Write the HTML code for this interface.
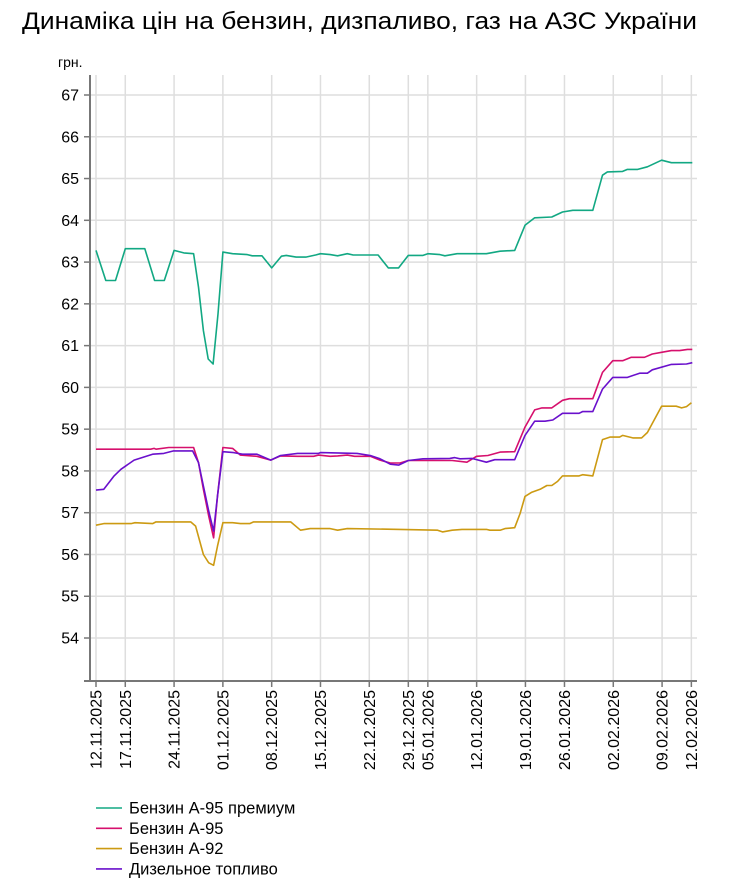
<!DOCTYPE html>
<html><head><meta charset="utf-8">
<style>
body{margin:0;background:#fff;font-family:"Liberation Sans",Arial,sans-serif;}
svg text{font-family:"Liberation Sans",Arial,sans-serif;}
</style></head>
<body>
<svg id="chart" width="748" height="891" xmlns="http://www.w3.org/2000/svg">
<text x="22" y="29" font-size="24" textLength="675" lengthAdjust="spacingAndGlyphs" fill="#000">Динаміка цін на бензин, дизпаливо, газ на АЗС України</text>
<text x="58" y="67" font-size="14" fill="#000">грн.</text>
<g id="grid"></g><g id="series"></g><g id="axes"></g><g id="legend"></g>
</svg>
<script>
const yTicks=[54,55,56,57,58,59,60,61,62,63,64,65,66,67];
const tickIdx=[0,6,16,26,36,46,56,64,68,78,88,96,106,116,122];
const tickLabels=["12.11.2025","17.11.2025","24.11.2025","01.12.2025","08.12.2025","15.12.2025","22.12.2025","29.12.2025","05.01.2026","12.01.2026","19.01.2026","26.01.2026","02.02.2026","09.02.2026","12.02.2026"];
const seriesNames=["Бензин А-95 премиум","Бензин А-95","Бензин А-92","Дизельное топливо"];
const seriesColors=["#12a883","#d6106d","#cc9a12","#6a10cc"];

const premX=[0,2,4,6,10,12,14,16,18,20,21,22,23,24,25,26,28,31,32,34,36,38,39,41,43,45,46,48,49.5,51.5,52.7,57.8,59.9,62,64,67,68,70.5,71.5,74,80,82.8,85.8,87.9,89.9,93.4,95.6,97.7,101.8,103.8,104.8,107.9,108.9,111,113,115.9,117.9,122.2];
const premV=[63.28,62.56,62.56,63.32,63.32,62.56,62.56,63.28,63.22,63.2,62.4,61.36,60.68,60.56,61.76,63.24,63.2,63.18,63.15,63.15,62.86,63.14,63.16,63.12,63.12,63.17,63.2,63.18,63.15,63.2,63.17,63.17,62.86,62.86,63.16,63.16,63.2,63.18,63.15,63.2,63.2,63.26,63.28,63.88,64.06,64.08,64.2,64.24,64.24,65.08,65.16,65.17,65.22,65.22,65.28,65.44,65.38,65.38];

const a95X=[0,11.2,11.9,12.3,14.9,20,21,22,23.1,24.1,24.9,26,28,29.6,33,35.8,37.8,41.3,44.6,45.6,48,49.5,51.5,53,56.2,58.2,60.3,62.3,64,68,73,76,78,80.3,82.8,85.8,87.9,89.9,91.4,93.4,95.6,97,101.8,103.8,105.9,107.9,109.7,112.4,114,115.9,117.9,119.6,121.2,122.2];
const a95V=[58.52,58.52,58.54,58.52,58.56,58.56,58.2,57.56,56.92,56.4,57.4,58.56,58.54,58.38,58.35,58.26,58.36,58.35,58.35,58.38,58.35,58.36,58.38,58.35,58.35,58.26,58.19,58.19,58.25,58.25,58.25,58.21,58.35,58.37,58.45,58.46,59.05,59.46,59.51,59.51,59.69,59.73,59.73,60.36,60.64,60.64,60.72,60.72,60.8,60.84,60.88,60.88,60.91,60.91];

const a92X=[0,1.6,7.2,8,11.6,12.3,19.4,20.4,22,23.1,24.1,24.9,26,28,29.6,31.5,32.3,39.9,41.9,43.9,48,49.5,51.5,62.3,70,71,73,75,80,80.7,82.8,83.8,85.8,86.9,87.9,89.3,91,92.4,93.4,94.6,95.6,99,99.7,101.8,103.8,105.3,107.3,107.9,110,111.8,113,115.9,118.9,120,121,122];
const a92V=[56.7,56.74,56.74,56.76,56.74,56.78,56.78,56.68,56,55.8,55.74,56.2,56.76,56.76,56.74,56.74,56.78,56.78,56.58,56.62,56.62,56.58,56.62,56.6,56.58,56.54,56.58,56.6,56.6,56.58,56.58,56.62,56.64,56.98,57.39,57.49,57.56,57.65,57.65,57.75,57.88,57.88,57.91,57.88,58.75,58.81,58.81,58.85,58.79,58.79,58.92,59.55,59.55,59.51,59.54,59.63];

const dieX=[0,1.6,3.7,5.1,7.8,11.6,13.9,15.9,19.8,21,22,23.1,24.1,24.9,26,28.2,30,33,35.8,37.8,41.3,45.6,46,53.5,56.2,58.2,60.3,62,64,67,72.5,73.5,74.6,77,80,81.7,85.8,87.9,89.9,92,93.6,95.6,99,99.7,101.8,103.8,105.9,108.9,111.4,113,114,117.9,121,122.2];
const dieV=[57.54,57.56,57.88,58.04,58.26,58.4,58.42,58.48,58.48,58.2,57.64,57.04,56.56,57.4,58.46,58.44,58.4,58.4,58.26,58.37,58.42,58.42,58.44,58.42,58.37,58.29,58.16,58.14,58.25,58.29,58.3,58.32,58.29,58.3,58.21,58.27,58.27,58.85,59.19,59.19,59.22,59.38,59.38,59.42,59.42,59.96,60.24,60.24,60.34,60.34,60.42,60.55,60.56,60.59];

const NS="http://www.w3.org/2000/svg";
const xS=i=>96+i*4.88;
const yS=v=>95+(67-v)*41.77;
function mk(tag,attrs,parent){const e=document.createElementNS(NS,tag);for(const k in attrs)e.setAttribute(k,attrs[k]);parent.appendChild(e);return e;}
const grid=document.getElementById('grid'),axes=document.getElementById('axes'),ser=document.getElementById('series'),leg=document.getElementById('legend');
yTicks.forEach(v=>{
  const l=mk('line',{x1:90,x2:697,y1:yS(v),y2:yS(v),stroke:'#dedede','stroke-width':1.5},grid);
  
  
  mk('line',{x1:84,x2:90,y1:yS(v),y2:yS(v),stroke:'#777','stroke-width':1.5},axes);
  const t=mk('text',{x:79,y:yS(v)+5.5,'font-size':16,'text-anchor':'end',fill:'#000'},axes);
  t.textContent=v;
  
  
});
tickIdx.forEach((ix,k)=>{
  const x=xS(ix);
  const l=mk('line',{x1:x,x2:x,y1:75,y2:681,stroke:'#dedede','stroke-width':1.5},grid);
  
  
  mk('line',{x1:x,x2:x,y1:681,y2:687,stroke:'#777','stroke-width':1.5},axes);
  const t=mk('text',{x:0,y:0,'font-size':16,'text-anchor':'end',fill:'#000',transform:`translate(${x+5.5},690) rotate(-90)`},axes);
  t.textContent=tickLabels[k];
  
  
});
const ya=mk('line',{x1:90,x2:90,y1:75,y2:682,stroke:'#777','stroke-width':2},axes);


const xa=mk('line',{x1:84,x2:697,y1:681,y2:681,stroke:'#777','stroke-width':2},axes);


const xs=[premX,a95X,a92X,dieX],vs=[premV,a95V,a92V,dieV],names=['line-a95-premium','line-a95','line-a92','line-diesel'];
xs.forEach((X,s)=>{
  const d=X.map((ix,i)=>(i?'L':'M')+xS(ix).toFixed(1)+','+yS(vs[s][i]).toFixed(1)).join(' ');
  const p=mk('path',{d:d,fill:'none',stroke:seriesColors[s],'stroke-width':1.6,'stroke-linejoin':'round'},ser);
  
  
});
seriesNames.forEach((n,s)=>{
  const y=808+s*20.3;
  const g=mk('g',{},leg);
  
  
  mk('line',{x1:96,x2:122,y1:y,y2:y,stroke:seriesColors[s],'stroke-width':1.6},g);
  const t=mk('text',{x:129,y:y+5.5,'font-size':16.5,fill:'#000'},g);
  t.textContent=n;
});
</script>
</body></html>
